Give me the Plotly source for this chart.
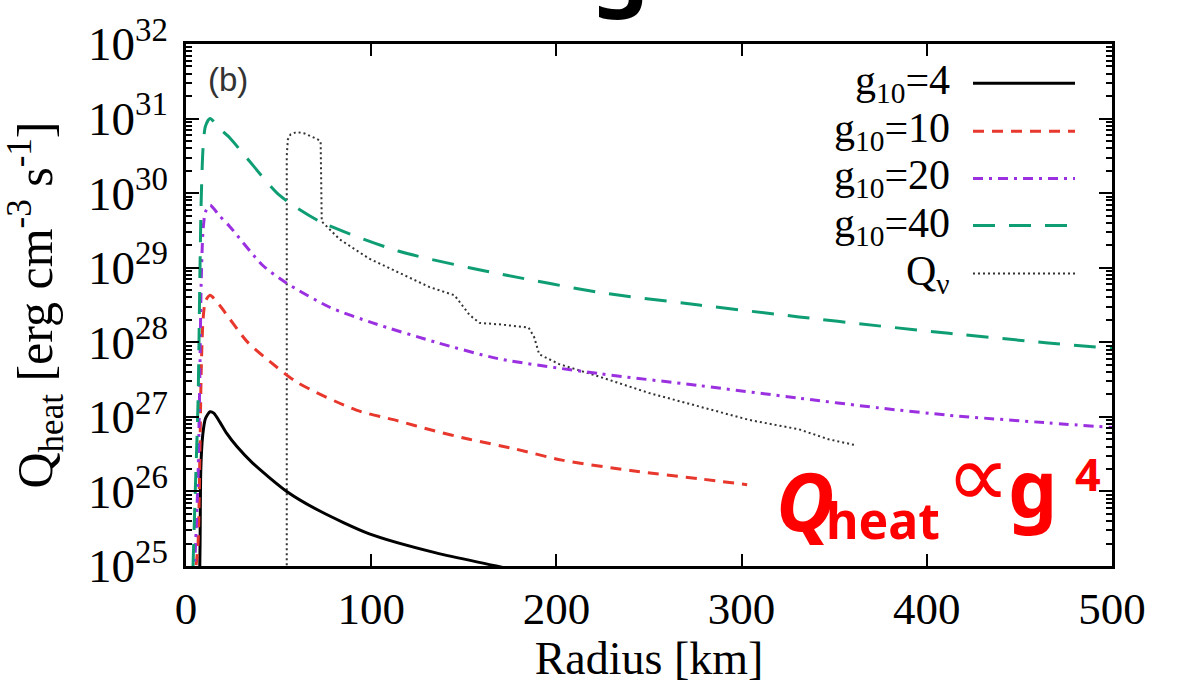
import plotly.graph_objects as go

# ---------------- data ----------------
radius_g4 = [7.2, 7.6, 8.0, 9.0, 10.5, 13, 15, 18.3, 22, 27.5, 36, 54.4, 72, 99, 135, 167.5, 200]
q_g4 = [3.2e24, 2.0e25, 2.0e26, 5.6e26, 9.5e26, 1.17e27, 1.12e27, 8.5e26, 6.0e26, 4.0e26,
        2.4e26, 1.0e26, 5.5e25, 2.7e25, 1.5e25, 1.0e25, 6.6e24]

radius_g10 = [3.5, 5, 6.5, 7.5, 8.2, 9.2, 10.5, 13, 18, 33, 45, 60, 92, 114, 133, 153, 178, 203,
              240, 277, 303]
q_g10 = [3.2e24, 7.9e24, 2.0e25, 3.2e26, 4.0e27, 2.0e28, 3.55e28, 4.27e28, 3.16e28, 1.02e28,
         5.6e27, 2.9e27, 1.23e27, 8.9e26, 6.6e26, 5.0e26, 3.7e26, 2.63e26, 1.91e26, 1.48e26, 1.23e26]

radius_g20 = [3.5, 5, 6.5, 7.5, 8.2, 9.2, 10.5, 13, 18, 23.7, 41.5, 54.4, 77.6, 100.8, 135, 169,
              223, 277, 331, 374, 412, 465.5, 500]
q_g20 = [3.2e24, 1.58e25, 1.58e26, 4.0e27, 6.3e28, 3.16e29, 5.6e29, 6.9e29, 5.0e29, 3.55e29,
         1.07e29, 6.2e28, 2.95e28, 1.82e28, 1.0e28, 6.0e27, 3.8e27, 2.63e27, 1.78e27, 1.32e27,
         1.05e27, 8.3e26, 7.2e26]

radius_g40 = [3.8, 5, 6.5, 7.5, 8.2, 9.2, 10.5, 13, 18, 23.7, 32.9, 50.6, 72.2, 115, 153, 169,
              223, 277, 331, 374, 412, 465.5, 500]
q_g40 = [1.0e25, 1.0e26, 1.58e27, 7.9e28, 7.9e29, 4.0e30, 7.9e30, 1.0e31, 7.4e30, 5.5e30,
         2.95e30, 9.3e29, 4.17e29, 1.66e29, 1.0e29, 8.3e28, 4.68e28, 3.16e28, 2.19e28, 1.66e28,
         1.32e28, 9.8e27, 8.3e27]

radius_qnu = [54.4, 54.4, 55, 56.5, 59.8, 64.1, 69.5, 72.7, 73.3, 83, 99, 115, 131.5, 145, 153,
              158.4, 169, 185, 188, 190.7, 201.5, 223, 250, 277, 304, 331, 347, 361.5]
q_nu = [1e23, 3.16e30, 5.25e30, 6.17e30, 6.6e30, 6.3e30, 5.5e30, 5.0e30, 4.17e29, 2.4e29,
        1.32e29, 8.5e28, 5.5e28, 4.27e28, 2.34e28, 1.82e28, 1.74e28, 1.58e28, 1.17e28, 6.9e27,
        5.1e27, 3.47e27, 2.09e27, 1.38e27, 9.1e26, 6.8e26, 5.0e26, 4.17e26]

x_ticks = [0, 100, 200, 300, 400, 500]
y_exponents = [25, 26, 27, 28, 29, 30, 31, 32]
legend_labels = ["g<sub>10</sub>=4", "g<sub>10</sub>=10", "g<sub>10</sub>=20",
                 "g<sub>10</sub>=40", "Q<sub>ν</sub>"]

# ---------------- styling ----------------
W, H = 1178, 684
L, R, T, B = 186, 1112, 34, 566  # plot-area pixel box
SERIF = "Liberation Serif, Times New Roman, serif"

styles = [
    dict(color="#000000", width=3, dash="solid"),
    dict(color="#e8372c", width=3, dash="11px,8px"),
    dict(color="#9b30e0", width=3, dash="10px,6px,3px,6px"),
    dict(color="#0f9e74", width=3, dash="22px,14px"),
    dict(color="#333333", width=2, dash="2px,3px"),
]
series = [(radius_g4, q_g4), (radius_g10, q_g10), (radius_g20, q_g20),
          (radius_g40, q_g40), (radius_qnu, q_nu)]


def px(xp):
    return (xp - L) / (R - L)


def py(yp):
    return (B - yp) / (B - T)


fig = go.Figure()
draw_order = [4, 0, 1, 2, 3]
for i in draw_order:
    xs, ys = series[i]
    ln = dict(styles[i])
    if i != 4:
        ln.update(shape="spline", smoothing=0.7)
    fig.add_trace(go.Scatter(x=xs, y=ys, mode="lines", line=ln,
                             showlegend=False, hoverinfo="skip"))

# manual legend (text then line sample, as in the reference)
legend_rows = [74, 123, 171, 219, 268]
annotations = []
shapes = []
for lab, yrow, st in zip(legend_labels, legend_rows, styles):
    annotations.append(dict(x=px(952), y=py(yrow), xref="paper", yref="paper", text=lab,
                            showarrow=False, xanchor="right", yanchor="middle",
                            font=dict(family=SERIF, size=42, color="#000")))
    shapes.append(dict(type="line", xref="paper", yref="paper", x0=px(973), x1=px(1075),
                       y0=py(yrow), y1=py(yrow), line=st))

# panel label
annotations.append(dict(x=px(206), y=py(70), xref="paper", yref="paper", text="(b)",
                        showarrow=False, xanchor="left", yanchor="middle",
                        font=dict(family="Liberation Sans, Arial, sans-serif", size=33,
                                  color="#333")))

# cut-off glyph of a heading above the figure
annotations.append(dict(x=px(620), y=py(16), xref="paper", yref="paper", text="<b>g</b>",
                        showarrow=False, xanchor="center", yanchor="bottom",
                        font=dict(family="Noto Sans, sans-serif", size=90, color="#000")))

# red annotation  Q_heat ∝ g^4
RED = "#ff0000"
SANS = "Noto Sans, Liberation Sans, sans-serif"
red_parts = [
    dict(x=px(774), y=py(556), text="<b><i>Q</i></b>", font=dict(family=SANS, size=80, color=RED)),
    dict(x=px(824), y=py(556), text="<b>heat</b>", font=dict(family=SANS, size=50, color=RED)),
    dict(x=px(944), y=py(529), text="∝",
         font=dict(family="DejaVu Sans, sans-serif", size=90, color=RED)),
    dict(x=px(1006), y=py(542), text="<b>g</b>", font=dict(family=SANS, size=78, color=RED)),
    dict(x=px(1073), y=py(505), text="<b>4</b>", font=dict(family=SANS, size=45, color=RED)),
]
for a in red_parts:
    a.update(xref="paper", yref="paper", showarrow=False, xanchor="left", yanchor="bottom")
annotations += red_parts

minor_vals = [k * 10.0 ** e for e in range(25, 32) for k in range(2, 10)]

fig.update_layout(
    width=W, height=H, autosize=False,
    margin=dict(l=L, r=W - R, t=T, b=H - B, pad=0),
    paper_bgcolor="white", plot_bgcolor="white",
    font=dict(family=SERIF, color="#000"),
    annotations=annotations, shapes=shapes,
    xaxis=dict(range=[0, 500], tickvals=x_ticks, ticktext=[str(v) for v in x_ticks],
               ticks="inside", ticklen=12, tickwidth=2, tickcolor="#000",
               showline=True, linecolor="#000", linewidth=2.5, mirror="ticks",
               showgrid=False, zeroline=False,
               tickfont=dict(family=SERIF, size=45), ticklabelstandoff=1,
               title=dict(text="Radius [km]", font=dict(family=SERIF, size=46), standoff=0)),
    yaxis=dict(type="log", range=[25, 32],
               tickvals=[10.0 ** e for e in y_exponents],
               ticktext=["10<sup>%d</sup>" % e for e in y_exponents],
               ticks="inside", ticklen=13, tickwidth=2, tickcolor="#000",
               minor=dict(tickvals=minor_vals, ticks="inside", ticklen=6, tickwidth=1.5,
                          tickcolor="#000", showgrid=False),
               showline=True, linecolor="#000", linewidth=2.5, mirror="ticks",
               showgrid=False, zeroline=False,
               tickfont=dict(family=SERIF, size=47), ticklabelstandoff=6,
               title=dict(text="Q<sub>heat</sub> [erg cm<sup>-3</sup> s<sup>-1</sup>]",
                          font=dict(family=SERIF, size=50), standoff=20)),
)

fig.write_html("out.html", config={"displayModeBar": False},
               post_script="document.body.style.margin='0px';document.body.style.overflow='hidden';")
